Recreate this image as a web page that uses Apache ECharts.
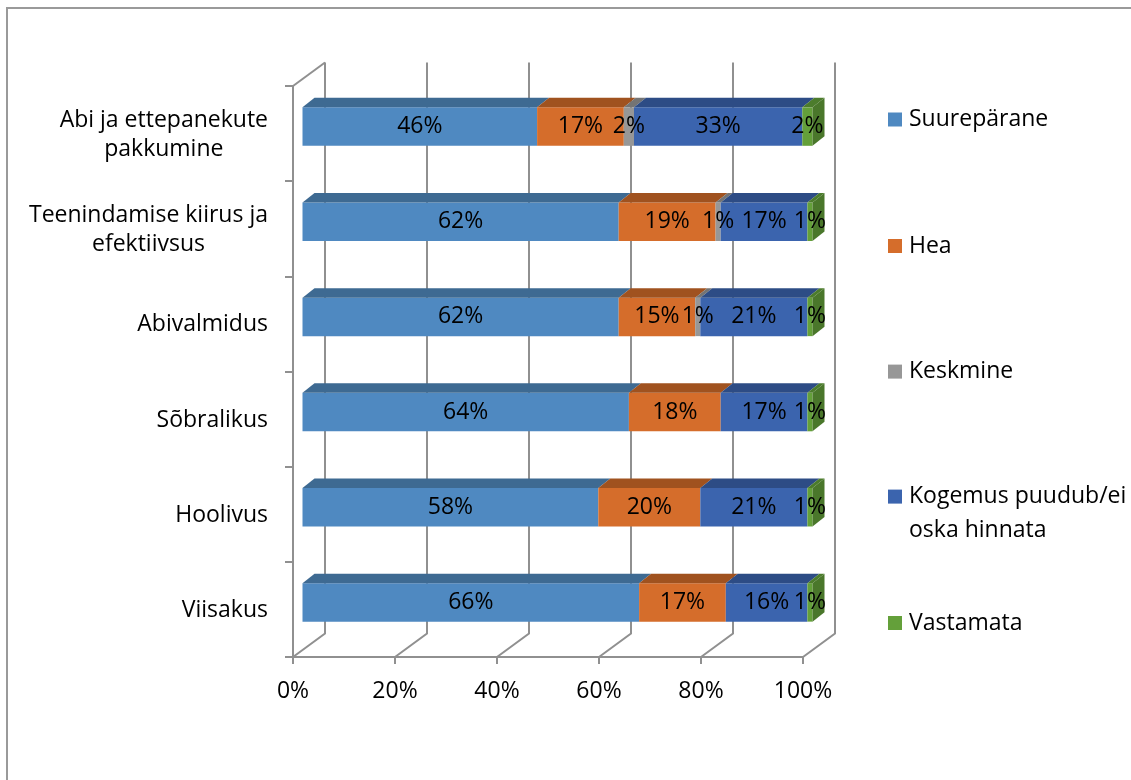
<!DOCTYPE html>
<html>
<head>
<meta charset="utf-8">
<script src="https://cdn.jsdelivr.net/npm/echarts@6/dist/echarts.min.js"></script>
<style>
  html, body { margin: 0; padding: 0; background: #ffffff; }
  #chart { width: 1131px; height: 780px; }
</style>
</head>
<body>
<div id="chart"></div>
<script>
// Survey categories (top to bottom) and answer shares in percent
const categories = [
  'Abi ja ettepanekute\npakkumine',
  'Teenindamise kiirus ja\nefektiivsus',
  'Abivalmidus',
  'Sõbralikus',
  'Hoolivus',
  'Viisakus'
];
const seriesNames = ['Suurepärane', 'Hea', 'Keskmine', 'Kogemus puudub/ei oska hinnata', 'Vastamata'];
const suureparane = [46, 62, 62, 64, 58, 66];
const hea         = [17, 19, 15, 18, 20, 17];
const keskmine    = [2, 1, 1, 0, 0, 0];
const kogemus     = [33, 17, 21, 17, 21, 16];
const vastamata   = [2, 1, 1, 1, 1, 1];
const xTicks = [0, 20, 40, 60, 80, 100];

const seriesValues = [suureparane, hea, keskmine, kogemus, vastamata];

// Face colours: front, top, side
const faceColors = [
  { front: '#4F89C1', top: '#3E6A92', side: '#3E6A92' },
  { front: '#D56D2B', top: '#A0521F', side: '#A0521F' },
  { front: '#979797', top: '#747474', side: '#747474' },
  { front: '#3B64AE', top: '#2D4C85', side: '#2D4C85' },
  { front: '#64A03A', top: '#4C7C2C', side: '#4A772B' }
];

const FONT = "'Open Sans', 'Noto Sans', sans-serif";
const FS = 23;
const LINE = '#909090';
const CAT_LINE_H = 29;
const CAT_MARGIN = 25;

// pseudo-3D depth offsets (pixels)
const WALL_DX = 32, WALL_DY = 23.5;   // back wall relative to front floor plane
const BAR_DX = 9.5, BAR_DY = 7;       // bar front face relative to front plane
const TOP_DX = 12, TOP_DY = 9.5;      // bar depth

// stacked segments
const totals = categories.map((_, c) => seriesValues.reduce((s, arr) => s + arr[c], 0));
const segData = seriesValues.map(() => []);
categories.forEach((_, c) => {
  let acc = 0;
  seriesValues.forEach((arr, s) => {
    const v = arr[c];
    segData[s].push([c, acc, acc + v, v]);
    acc += v;
  });
});
const labelData = [];
segData.forEach(arr => arr.forEach(d => { if (d[3] > 0) labelData.push([d[0], (d[1] + d[2]) / 2, d[3]]); }));

// widest line of each category label, for centring its lines as a right-aligned block
const measureCtx = document.createElement('canvas').getContext('2d');
measureCtx.font = FS + 'px ' + FONT;
const catBlockWidth = categories.map(label =>
  Math.max.apply(null, label.split('\n').map(l => measureCtx.measureText(l).width)));

function barRenderer(sIdx) {
  const col = faceColors[sIdx];
  return function (params, api) {
    const cat = api.value(0), s = api.value(1), e = api.value(2);
    if (e - s <= 0) return null;
    const p0 = api.coord([s, cat]);
    const p1 = api.coord([e, cat]);
    const h = api.size([0, 1])[1] * 0.404;
    const x0 = p0[0] + BAR_DX, x1 = p1[0] + BAR_DX;
    const yc = p0[1] - BAR_DY;
    const yt = yc - h / 2, yb = yc + h / 2;
    const children = [
      { type: 'rect', shape: { x: x0, y: yt, width: x1 - x0, height: h }, style: { fill: col.front } },
      { type: 'polygon', shape: { points: [[x0, yt], [x1, yt], [x1 + TOP_DX, yt - TOP_DY], [x0 + TOP_DX, yt - TOP_DY]] }, style: { fill: col.top } }
    ];
    if (e >= totals[cat] - 1e-9) {
      children.push({ type: 'polygon', shape: { points: [[x1, yt], [x1 + TOP_DX, yt - TOP_DY], [x1 + TOP_DX, yb - TOP_DY], [x1, yb]] }, style: { fill: col.side } });
    }
    return { type: 'group', children: children };
  };
}

const chart = echarts.init(document.getElementById('chart'), null, { renderer: 'canvas' });

const legendTops = [104.5, 231, 356.6, 445.6, 608];

const series = [
  {
    // back wall gridlines, floor edges and left wall
    type: 'custom',
    name: 'frame',
    silent: true,
    z: 1,
    data: xTicks.map(v => [v, 0]),
    encode: { x: 0, y: 1 },
    renderItem: function (params, api) {
      const cs = params.coordSys;
      const x = api.coord([api.value(0), 0])[0];
      const top = cs.y, bottom = cs.y + cs.height;
      const children = [
        { type: 'polyline', shape: { points: [[x + WALL_DX, top - WALL_DY], [x + WALL_DX, bottom - WALL_DY], [x, bottom]] }, style: { stroke: LINE, lineWidth: 2, fill: null } }
      ];
      if (api.value(0) === xTicks[0]) {
        children.push({ type: 'line', shape: { x1: x, y1: top, x2: x + WALL_DX, y2: top - WALL_DY }, style: { stroke: LINE, lineWidth: 2 } });
      }
      return { type: 'group', children: children };
    }
  },
  {
    // category names left of the axis, lines centred within each block
    type: 'custom',
    name: 'categoryNames',
    silent: true,
    z: 3,
    data: categories.map((_, i) => [0, i]),
    encode: { x: 0, y: 1 },
    renderItem: function (params, api) {
      const idx = api.value(1);
      const p = api.coord([0, idx]);
      const lines = categories[idx].split('\n');
      const cx = p[0] - CAT_MARGIN - catBlockWidth[idx] / 2;
      return {
        type: 'group',
        children: lines.map((l, j) => ({
          type: 'text',
          style: {
            x: cx, y: p[1] + 1 + (j - (lines.length - 1) / 2) * CAT_LINE_H,
            text: l, fill: '#000', font: FS + 'px ' + FONT,
            align: 'center', verticalAlign: 'middle'
          }
        }))
      };
    }
  }
];

seriesNames.forEach((name, i) => {
  series.push({
    type: 'custom',
    name: name,
    z: 2,
    itemStyle: { color: faceColors[i].front },
    data: segData[i],
    encode: { x: [1, 2], y: 0 },
    renderItem: barRenderer(i)
  });
});

series.push({
  // value labels on the bar fronts
  type: 'custom',
  name: 'labels',
  silent: true,
  z: 5,
  data: labelData,
  encode: { x: 1, y: 0 },
  renderItem: function (params, api) {
    const p = api.coord([api.value(1), api.value(0)]);
    return {
      type: 'text',
      style: {
        x: p[0] + BAR_DX, y: p[1] - BAR_DY,
        text: api.value(2) + '%',
        fill: '#000', font: FS + 'px ' + FONT,
        align: 'center', verticalAlign: 'middle'
      }
    };
  }
});

chart.setOption({
  animation: false,
  backgroundColor: '#ffffff',
  color: faceColors.map(c => c.front),
  grid: { left: 293, top: 86, width: 510, height: 571, outerBoundsMode: 'none', containLabel: false },
  xAxis: {
    type: 'value', min: 0, max: 100, interval: 20,
    axisLine: { show: true, lineStyle: { color: LINE, width: 2 } },
    axisTick: { show: true, length: 7, lineStyle: { color: LINE, width: 2 } },
    splitLine: { show: false },
    axisLabel: { formatter: '{value}%', margin: 23, color: '#000', fontSize: FS, fontFamily: FONT }
  },
  yAxis: {
    type: 'category', data: categories, inverse: true,
    axisLine: { show: true, lineStyle: { color: LINE, width: 2 } },
    axisTick: { show: true, length: 8, lineStyle: { color: LINE, width: 2 } },
    splitLine: { show: false },
    axisLabel: { show: false }
  },
  legend: seriesNames.map((n, i) => ({
    data: [n],
    orient: 'vertical',
    left: 888,
    top: legendTops[i],
    padding: 0,
    itemWidth: 14,
    itemHeight: 14,
    icon: 'rect',
    selectedMode: false,
    // the two-line entry keeps its first line level with the swatch
    formatter: name => name.indexOf('/ei ') >= 0 ? '\n' + name.replace('/ei ', '/ei\n') : name,
    textStyle: i === 3
      ? { color: '#000', fontSize: FS, fontFamily: FONT, lineHeight: 34, padding: [0, 0, 0, 2] }
      : { color: '#000', fontSize: FS, fontFamily: FONT, lineHeight: 30, padding: [0, 0, 0, 2] }
  })),
  graphic: [
    { type: 'rect', silent: true, z: 0, shape: { x: 7, y: 8, width: 1300, height: 1000 }, style: { fill: 'none', stroke: '#9a9a9a', lineWidth: 2 } }
  ],
  series: series
});
</script>
</body>
</html>
